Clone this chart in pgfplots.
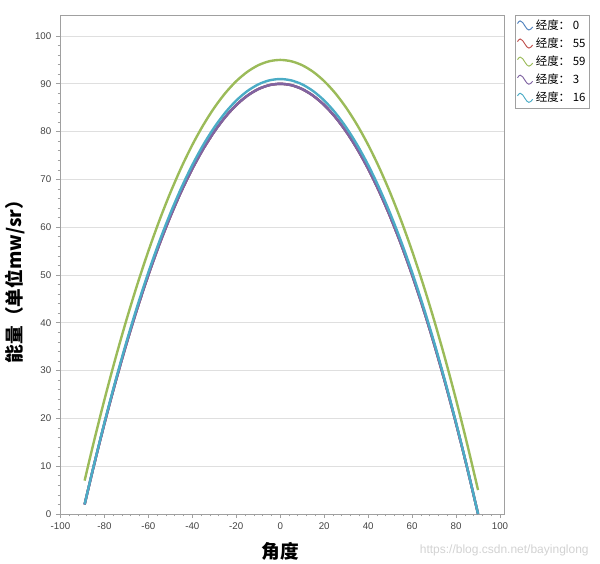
\documentclass[border=0pt]{standalone}
\usepackage{pgfplots}
\usepackage{pgfplotstable}
\pgfplotsset{compat=1.18}
\usepackage{fontspec}
\setmainfont{Liberation Sans}
\newfontfamily\cjk{Noto Sans CJK SC}
\definecolor{cB}{HTML}{4F81BD}
\definecolor{cR}{HTML}{C0504D}
\definecolor{cG}{HTML}{9BBB59}
\definecolor{cP}{HTML}{8064A2}
\definecolor{cC}{HTML}{4BACC6}
\definecolor{tickc}{HTML}{444444}
\definecolor{framec}{HTML}{A0A0A0}
\pgfplotstableread{
x b g c
-89 1.99 6.99 2.02
-85 9.72 14.72 9.83
-80 18.89 23.89 19.10
-75 27.50 32.50 27.81
-70 35.56 40.56 35.96
-65 43.06 48.06 43.54
-60 50.00 55.00 50.56
-55 56.39 61.39 57.02
-50 62.22 67.22 62.91
-45 67.50 72.50 68.25
-40 72.22 77.22 73.02
-35 76.39 81.39 77.24
-30 80.00 85.00 80.89
-25 83.06 88.06 83.98
-20 85.56 90.56 86.51
-15 87.50 92.50 88.47
-10 88.89 93.89 89.88
-5 89.72 94.72 90.72
0 90.00 95.00 91.00
5 89.72 94.72 90.72
10 88.89 93.89 89.88
15 87.50 92.50 88.47
20 85.56 90.56 86.51
25 83.06 88.06 83.98
30 80.00 85.00 80.89
35 76.39 81.39 77.24
40 72.22 77.22 73.02
45 67.50 72.50 68.25
50 62.22 67.22 62.91
55 56.39 61.39 57.02
60 50.00 55.00 50.56
65 43.06 48.06 43.54
70 35.56 40.56 35.96
75 27.50 32.50 27.81
80 18.89 23.89 19.10
85 9.72 14.72 9.83
90 0.00 5.00 0.00
}\data
\begin{document}
\begin{tikzpicture}
\path[use as bounding box] (-45pt,-37.5pt) rectangle (405pt,385.5pt);
\begin{axis}[
  scale only axis,
  width=333pt, height=374.25pt,
  xmin=-100.2, xmax=101.8,
  ymin=0, ymax=104.4,
  xtick={-100,-80,...,100},
  ytick={0,10,...,100},
  minor x tick num=4,
  minor y tick num=4,
  tick align=outside,
  xtick pos=bottom, ytick pos=left,
  major tick length=3pt, minor tick length=1.8pt,
  every tick/.style={framec, line width=0.5pt},
  axis line style={framec, line width=0.6pt},
  ymajorgrids,
  major grid style={gray!25, line width=0.5pt},
  tick label style={font=\fontsize{7.3}{8}\selectfont, text=tickc},
  /pgf/number format/assume math mode=true,
  xlabel={\cjk\bfseries 角度},
  xlabel style={at={(axis description cs:0.4955,-0.074)}, anchor=center, font=\fontsize{14}{15}\selectfont},
  ylabel={\cjk\bfseries 能量（单位mw/sr）},
  ylabel style={at={(axis description cs:-0.101,0.475)}, anchor=center, rotate=0, font=\fontsize{14}{15}\selectfont},
  legend cell align=left,
  legend style={at={(1.025,1)}, anchor=north west, draw=framec, line width=0.5pt,
    font=\cjk\fontsize{8.6}{9.5}\selectfont, inner sep=1.2pt, row sep=0.8pt},
  legend image code/.code={\draw[#1, line width=0.7pt] (0cm,0.05cm) sin (0.07cm,0.12cm) cos (0.2cm,-0.02cm) sin (0.3cm,-0.12cm) cos (0.4cm,-0.04cm);},
]
\addplot[cB, line width=1.8pt, smooth] table[x=x, y=b] {\data};
\addlegendentry{经度： 0}
\addplot[cR, line width=1.8pt, smooth] table[x=x, y=b] {\data};
\addlegendentry{经度： 55}
\addplot[cG, line width=1.8pt, smooth] table[x=x, y=g] {\data};
\addlegendentry{经度： 59}
\addplot[cP, line width=1.8pt, smooth] table[x=x, y=b] {\data};
\addlegendentry{经度： 3}
\addplot[cC, line width=1.8pt, smooth] table[x=x, y=c] {\data};
\addlegendentry{经度： 16}
\end{axis}
\node[anchor=east, text=gray!35, font=\fontsize{9}{10}\selectfont] at (400pt,-27pt) {https://blog.csdn.net/bayinglong};
\end{tikzpicture}
\end{document}
